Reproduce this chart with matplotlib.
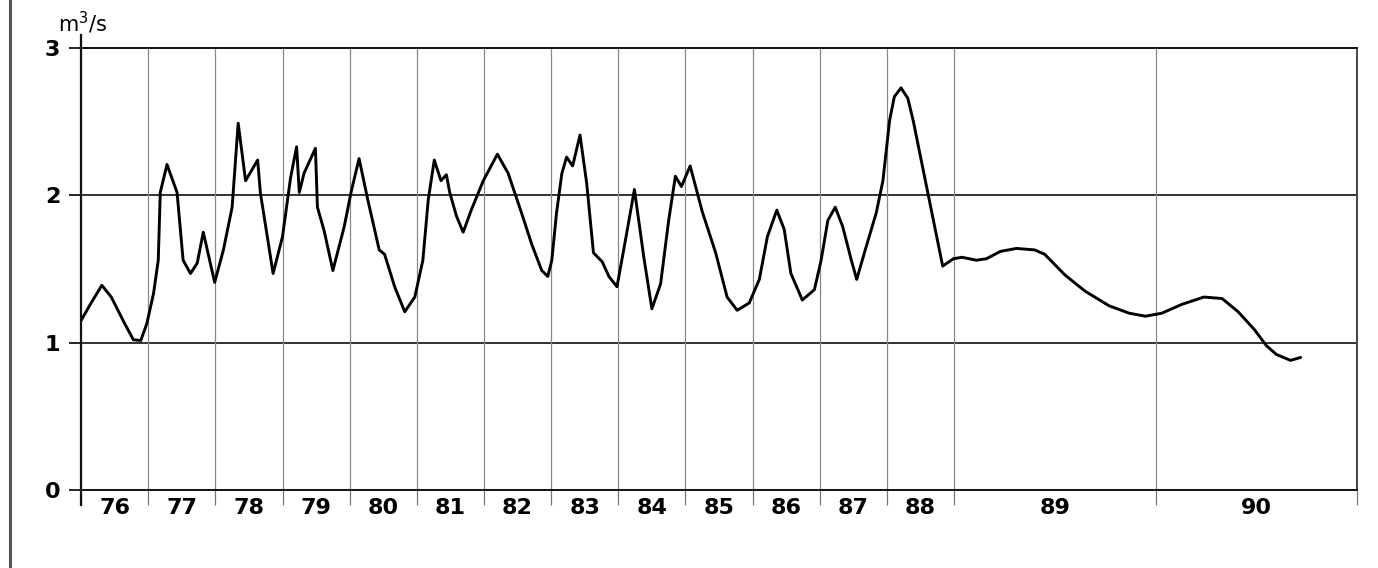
import matplotlib.pyplot as plt
from matplotlib.lines import Line2D
import numpy as np

# year boundaries, and where they sit on the drawn axis (89 and 90 are drawn 3x wider)
bounds = [1976, 1977, 1978, 1979, 1980, 1981, 1982, 1983, 1984,
          1985, 1986, 1987, 1988, 1989, 1990, 1991]
bound_pos = [0, 1, 2, 3, 4, 5, 6, 7, 8, 9, 10, 11, 12, 13, 16, 19]

year_labels = ['76', '77', '78', '79', '80', '81', '82', '83',
               '84', '85', '86', '87', '88', '89', '90']

# flow, m3/s (time in decimal years)
t = [1976.00, 1976.15, 1976.31, 1976.45, 1976.65, 1976.78, 1976.89, 1976.98,
     1977.08, 1977.15, 1977.18, 1977.28, 1977.43, 1977.52, 1977.63, 1977.73,
     1977.82, 1977.99, 1978.12, 1978.25, 1978.34, 1978.45, 1978.63, 1978.67,
     1978.86, 1979.00, 1979.12, 1979.21, 1979.25, 1979.32, 1979.49, 1979.52,
     1979.62, 1979.75, 1979.92, 1980.02, 1980.14, 1980.27, 1980.44, 1980.52,
     1980.67, 1980.82, 1980.97, 1981.09, 1981.17, 1981.26, 1981.36, 1981.44,
     1981.49, 1981.59, 1981.69, 1981.81, 1981.99, 1982.20, 1982.36, 1982.56,
     1982.71, 1982.86, 1982.95, 1983.01, 1983.08, 1983.16, 1983.23, 1983.32,
     1983.43, 1983.53, 1983.63, 1983.76, 1983.86, 1983.98, 1984.10, 1984.24,
     1984.38, 1984.50, 1984.63, 1984.75, 1984.85, 1984.94, 1985.07, 1985.25,
     1985.45, 1985.62, 1985.77, 1985.95, 1986.10, 1986.22, 1986.36, 1986.47,
     1986.57, 1986.74, 1986.92, 1987.02, 1987.12, 1987.23, 1987.34, 1987.47,
     1987.55, 1987.69, 1987.84, 1987.94, 1988.04, 1988.11, 1988.21, 1988.31,
     1988.39, 1988.59, 1988.74, 1988.83, 1988.99, 1989.04, 1989.11, 1989.16,
     1989.23, 1989.31, 1989.40, 1989.45, 1989.55, 1989.65, 1989.77, 1989.87,
     1989.95, 1990.03, 1990.13, 1990.24, 1990.33, 1990.41, 1990.49, 1990.55,
     1990.60, 1990.67, 1990.72]
q = [1.15, 1.27, 1.39, 1.31, 1.13, 1.02, 1.015, 1.13,
     1.335, 1.56, 2.02, 2.21, 2.02, 1.56, 1.47, 1.54,
     1.75, 1.41, 1.63, 1.92, 2.49, 2.10, 2.24, 2.02,
     1.47, 1.72, 2.12, 2.33, 2.02, 2.15, 2.32, 1.92,
     1.76, 1.49, 1.79, 2.02, 2.25, 1.97, 1.63, 1.60,
     1.38, 1.21, 1.31, 1.56, 1.97, 2.24, 2.10, 2.14,
     2.02, 1.86, 1.75, 1.90, 2.10, 2.28, 2.15, 1.88,
     1.67, 1.49, 1.45, 1.56, 1.88, 2.15, 2.26, 2.20,
     2.41, 2.08, 1.61, 1.55, 1.45, 1.38, 1.68, 2.04,
     1.58, 1.23, 1.40, 1.83, 2.13, 2.06, 2.20, 1.89,
     1.61, 1.31, 1.22, 1.27, 1.43, 1.72, 1.90, 1.77,
     1.47, 1.29, 1.36, 1.56, 1.83, 1.92, 1.79, 1.56,
     1.43, 1.65, 1.88, 2.10, 2.51, 2.67, 2.73, 2.66,
     2.51, 2.06, 1.72, 1.52, 1.57, 1.58, 1.56, 1.57,
     1.62, 1.64, 1.63, 1.60, 1.46, 1.35, 1.25, 1.20,
     1.18, 1.20, 1.26, 1.31, 1.30, 1.21, 1.09, 0.98,
     0.92, 0.88, 0.90]


def fwd(x):
    return np.interp(x, bounds, bound_pos)


def inv(x):
    return np.interp(x, bound_pos, bounds)


fig = plt.figure(figsize=(13.78, 5.68), dpi=100)
ax = fig.add_axes([0.0588, 0.1373, 0.926, 0.778])
ax.set_xscale('function', functions=(fwd, inv))
ax.set_xlim(1976, 1991)
ax.set_ylim(0, 3)

for s in ['top', 'left', 'bottom']:
    ax.spines[s].set_color('#111111')
    ax.spines[s].set_linewidth(1.4)
ax.spines['right'].set_color('#444444')
ax.spines['right'].set_linewidth(1.4)

# grid
for yv in [1, 2]:
    ax.axhline(yv, color='#222222', lw=1.3, zorder=1)
for b in bounds[1:-1]:
    ax.axvline(b, color='#888888', lw=0.9, zorder=1)

# ticks: year boundaries below the axis, labels in the middle of each year
ax.set_xticks(bounds)
ax.set_xticklabels([])
centers = [(a + b) / 2 for a, b in zip(bounds[:-1], bounds[1:])]
ax.set_xticks(centers, minor=True)
ax.set_xticklabels(year_labels, minor=True, fontsize=16, fontweight='bold')
ax.tick_params(axis='x', which='major', direction='out', length=11, width=0.9, color='#777777')
ax.tick_params(axis='x', which='minor', length=0, pad=6)

ax.set_yticks([0, 1, 2, 3])
ax.set_yticklabels(['0', '1', '2', '3'], fontsize=16, fontweight='bold')
ax.tick_params(axis='y', direction='out', length=9, width=1.2, pad=6)

# left axis line runs a little past both ends
ax.add_line(Line2D([0, 0], [-0.035, 1.03], transform=ax.transAxes,
                   color='#111111', lw=1.6, clip_on=False))

ax.plot(t, q, color='black', lw=2.1, solid_joinstyle='round',
        solid_capstyle='round', zorder=3)

fig.text(58 / 1378, 1 - 32 / 568, 'm$^3$/s', fontsize=15, va='baseline')

# page border on the left
fig.add_artist(Line2D([0.0072, 0.0072], [0, 1], color='#555555', lw=2.2))

plt.savefig('out.png', dpi=100)
